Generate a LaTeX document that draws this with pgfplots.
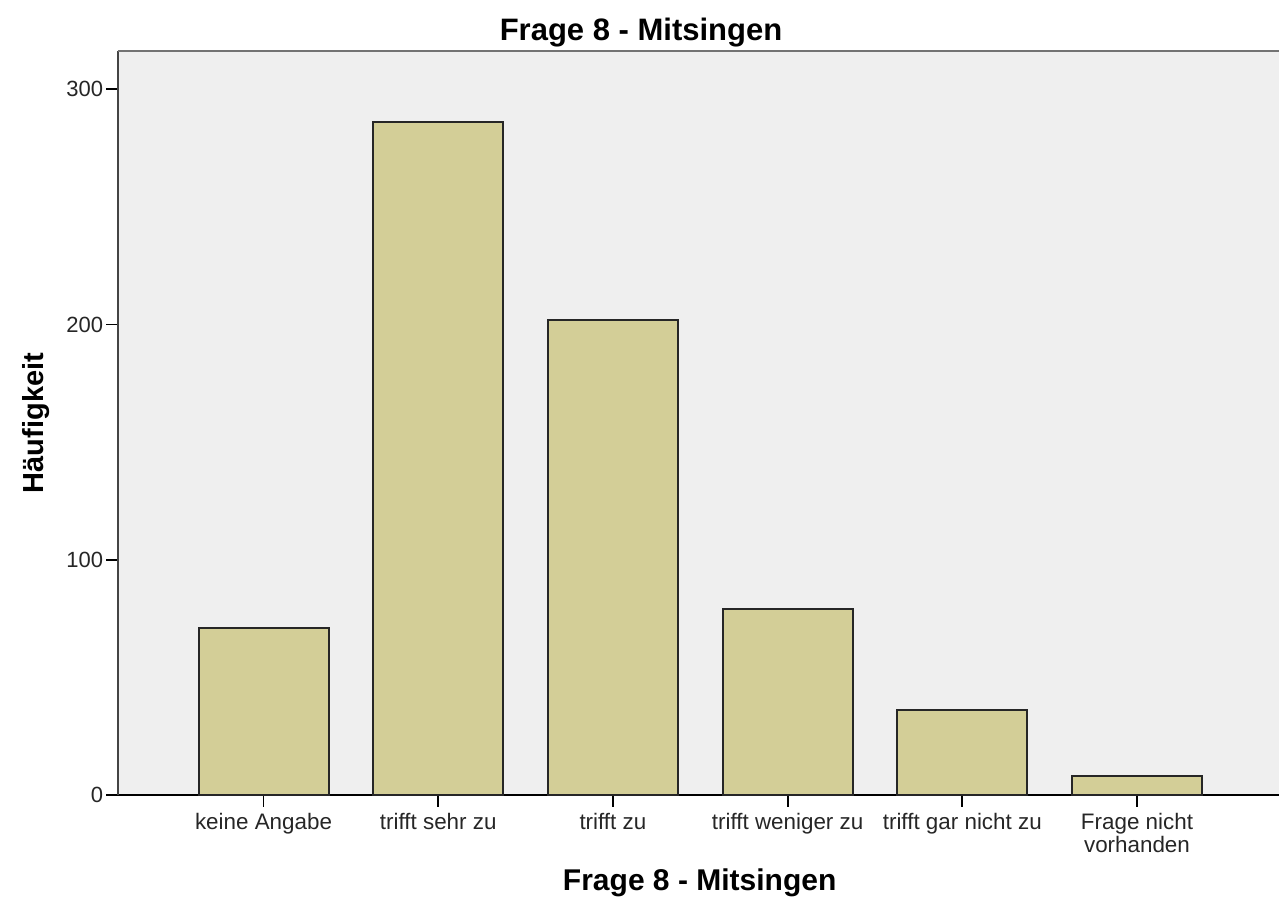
\documentclass[border=0pt]{standalone}
\usepackage{pgfplots}
\pgfplotsset{compat=1.18}
\usepackage{fontspec}
\setmainfont{Liberation Sans}
\definecolor{barfill}{HTML}{D3CE97}
\definecolor{bgcol}{HTML}{EFEFEF}
\definecolor{axcol}{HTML}{444444}
\begin{document}
\begin{tikzpicture}
\begin{axis}[
  scale only axis,
  width=580.5pt, height=372pt,
  xmin=-0.833, xmax=5.813,
  ymin=0, ymax=316.3,
  axis background/.style={fill=bgcol},
  axis x line*=bottom, axis y line*=left,
  axis line style={axcol, line width=1.2pt},
  x axis line style={-, black, line width=0.9pt},
  y axis line style={-},
  tick align=outside,
  major tick length=5.8pt,
  tick style={black, line width=0.9pt},
  xtick={0,1,2,3,4,5},
  xticklabels={keine Angabe, trifft sehr zu, trifft zu, trifft weniger zu, trifft gar nicht zu, {Frage nicht\\vorhanden}},
  xticklabel style={align=center, font={\fontsize{11.2}{10}\selectfont}, text=black!85, inner sep=3pt},
  ytick={0,100,200,300},
  yticklabel style={font={\fontsize{11}{13}\selectfont}, text=black!85, inner sep=1.5pt},
  /pgf/number format/assume math mode=true,
  ylabel={Häufigkeit},
  ylabel style={at={(axis description cs:-0.071,0.5)}, anchor=center, font={\fontsize{14.5}{16}\selectfont\bfseries}},
  xlabel={Frage 8 - Mitsingen},
  xlabel style={at={(axis description cs:0.501,-0.118)}, anchor=center, font={\fontsize{15}{17}\selectfont\bfseries}},
  title={Frage 8 - Mitsingen},
  title style={at={(axis description cs:0.4505,1.009)}, anchor=center, font={\fontsize{15.5}{17}\selectfont\bfseries}},
  clip=false,
]
\addplot[ybar, bar width=0.744, fill=barfill, draw=black!85, line width=1pt]
  coordinates {(0,71) (1,286) (2,202) (3,79) (4,36) (5,8)};
\draw[black!55, line width=1.4pt] (rel axis cs:0,1) -- (rel axis cs:1,1);
\end{axis}
\pgfresetboundingbox
\path[use as bounding box] ([shift={(-59pt,-53.5pt)}]current axis.south west) rectangle ([shift={(0pt,25.5pt)}]current axis.north east);
\end{tikzpicture}
\end{document}
